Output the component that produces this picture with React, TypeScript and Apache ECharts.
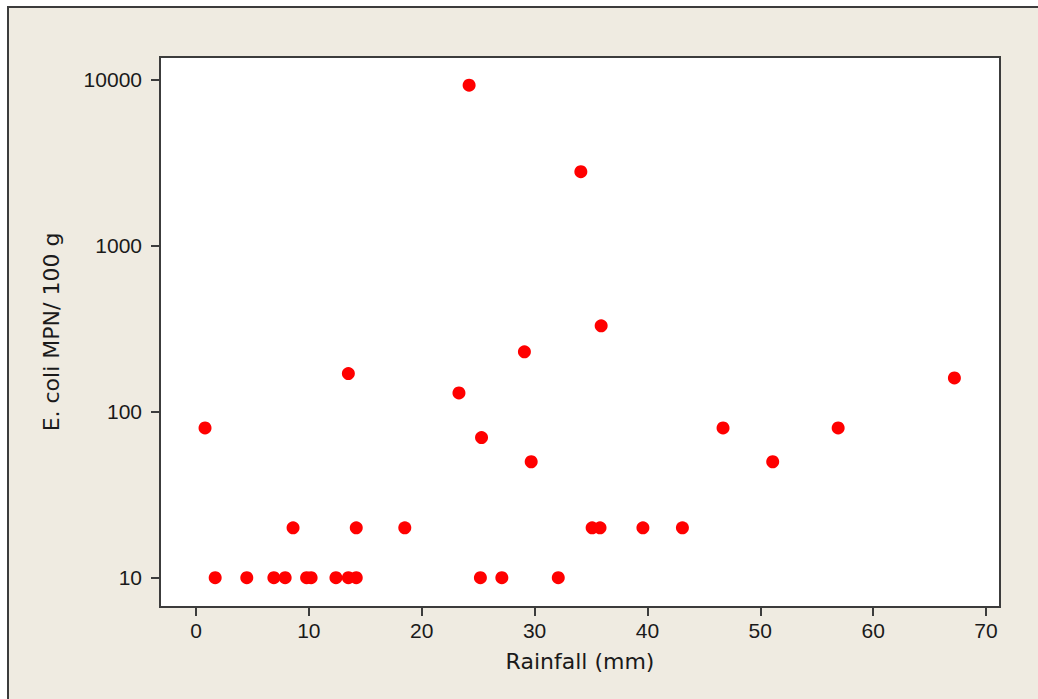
import React, { useEffect, useRef } from "react";
import * as echarts from "echarts";

const rainfall = [0.8, 1.7, 4.5, 6.9, 7.9, 8.6, 9.8, 10.2, 12.4, 13.5, 13.5, 14.2, 14.2, 18.5, 23.3, 24.2, 25.2, 25.3, 27.1, 29.1, 29.7, 32.1, 34.1, 35.1, 35.8, 35.9, 39.6, 43.1, 46.7, 51.1, 56.9, 67.2];
const ecoli = [80, 10, 10, 10, 10, 20, 10, 10, 10, 170, 10, 10, 20, 20, 130, 9300, 10, 70, 10, 230, 50, 10, 2800, 20, 20, 330, 20, 20, 80, 50, 80, 160];
const xTicks = [0, 10, 20, 30, 40, 50, 60, 70];
const yTicks = [10, 100, 1000, 10000];

export default function App() {
  const ref = useRef<HTMLDivElement>(null);
  useEffect(() => {
    const chart = echarts.init(ref.current!, undefined, { renderer: "svg" });
    const tickFont = { fontFamily: "Liberation Sans", fontSize: 21, color: "#1a1a1a" };
    chart.setOption({
      animation: false,
      backgroundColor: "#ffffff",
      graphic: [
        {
          type: "rect",
          z: -10,
          shape: { x: 8, y: 7, width: 1100, height: 800 },
          style: { fill: "#EFEBE1", stroke: "#3c3c3c", lineWidth: 2 },
          silent: true,
        },
      ],
      grid: {
        left: 160,
        top: 57,
        right: 38,
        bottom: 92,
        show: true,
        backgroundColor: "#ffffff",
        borderColor: "#3c3c3c",
        borderWidth: 2,
        z: 0,
      },
      xAxis: {
        type: "value",
        min: -3.19,
        max: 71.24,
        name: "Rainfall (mm)",
        nameLocation: "middle",
        nameGap: 43,
        nameTextStyle: { fontFamily: "DejaVu Sans", fontSize: 22, color: "#1a1a1a" },
        axisLine: { show: true, onZero: false, lineStyle: { color: "#3c3c3c", width: 2 } },
        axisTick: { show: true, inside: false, length: 9, customValues: xTicks, lineStyle: { color: "#3c3c3c", width: 2 } },
        axisLabel: { ...tickFont, margin: 13, customValues: xTicks, showMinLabel: true, showMaxLabel: true },
        splitLine: { show: false },
      },
      yAxis: {
        type: "log",
        logBase: 10,
        min: 6.66,
        max: 13760,
        name: "E. coli MPN/ 100 g",
        nameLocation: "middle",
        nameGap: 98,
        nameTextStyle: { fontFamily: "DejaVu Sans", fontSize: 22, color: "#1a1a1a" },
        axisLine: { show: true, onZero: false, lineStyle: { color: "#3c3c3c", width: 2 } },
        axisTick: { show: true, inside: false, length: 9, customValues: yTicks, lineStyle: { color: "#3c3c3c", width: 2 } },
        axisLabel: { ...tickFont, margin: 18, customValues: yTicks, formatter: (v: number) => String(Math.round(v)) },
        splitLine: { show: false },
      },
      series: [
        {
          type: "scatter",
          data: rainfall.map((x, i) => [x, ecoli[i]]),
          symbol: "circle",
          symbolSize: 13,
          itemStyle: { color: "#ff0000", opacity: 1 },
          z: 5,
        },
      ],
    });
    return () => chart.dispose();
  }, []);
  return (
    <div
      ref={ref}
      style={{ position: "absolute", left: 0, top: 0, width: 1038, height: 699 }}
    />
  );
}
